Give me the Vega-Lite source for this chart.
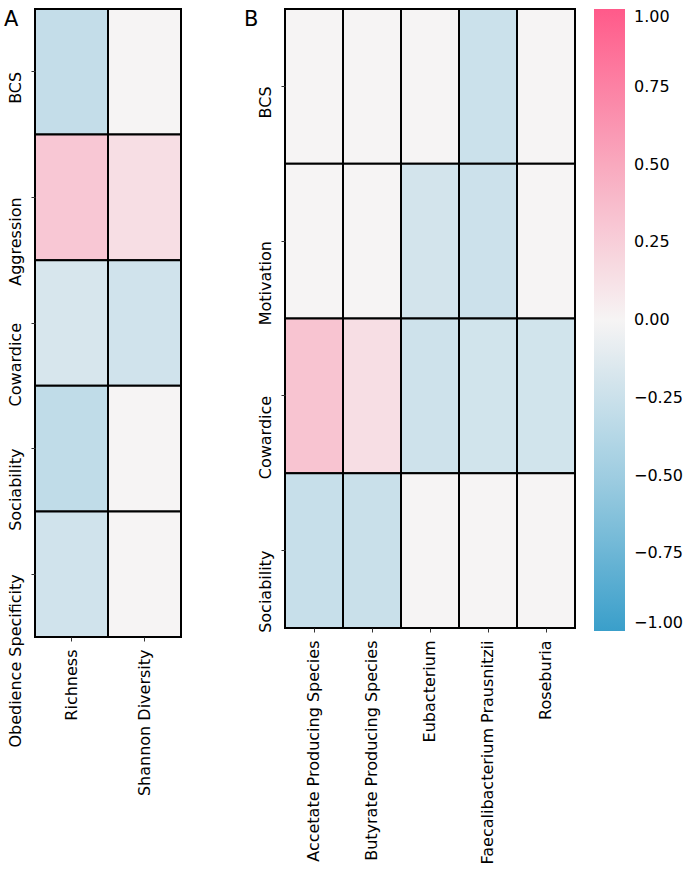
{
  "$schema": "https://vega.github.io/schema/vega-lite/v6.json",
  "padding": {"left": 4, "top": 8, "right": 5, "bottom": 4},
  "autosize": {"type": "pad"},
  "datasets": {
    "a": [
      {"trait": "BCS", "measure": "Richness", "r": -0.29},
      {"trait": "BCS", "measure": "Shannon Diversity", "r": 0},
      {"trait": "Aggression", "measure": "Richness", "r": 0.3},
      {"trait": "Aggression", "measure": "Shannon Diversity", "r": 0.15},
      {"trait": "Cowardice", "measure": "Richness", "r": -0.18},
      {"trait": "Cowardice", "measure": "Shannon Diversity", "r": -0.22},
      {"trait": "Sociability", "measure": "Richness", "r": -0.31},
      {"trait": "Sociability", "measure": "Shannon Diversity", "r": 0},
      {"trait": "Obedience Specificity", "measure": "Richness", "r": -0.22},
      {"trait": "Obedience Specificity", "measure": "Shannon Diversity", "r": 0}
    ],
    "b": [
      {"trait": "BCS", "taxon": "Accetate Producing Species", "r": 0},
      {"trait": "BCS", "taxon": "Butyrate Producing Species", "r": 0},
      {"trait": "BCS", "taxon": "Eubacterium", "r": 0},
      {"trait": "BCS", "taxon": "Faecalibacterium Prausnitzii", "r": -0.25},
      {"trait": "BCS", "taxon": "Roseburia", "r": 0},
      {"trait": "Motivation", "taxon": "Accetate Producing Species", "r": 0},
      {"trait": "Motivation", "taxon": "Butyrate Producing Species", "r": 0},
      {"trait": "Motivation", "taxon": "Eubacterium", "r": -0.2},
      {"trait": "Motivation", "taxon": "Faecalibacterium Prausnitzii", "r": -0.24},
      {"trait": "Motivation", "taxon": "Roseburia", "r": 0},
      {"trait": "Cowardice", "taxon": "Accetate Producing Species", "r": 0.32},
      {"trait": "Cowardice", "taxon": "Butyrate Producing Species", "r": 0.15},
      {"trait": "Cowardice", "taxon": "Eubacterium", "r": -0.23},
      {"trait": "Cowardice", "taxon": "Faecalibacterium Prausnitzii", "r": -0.21},
      {"trait": "Cowardice", "taxon": "Roseburia", "r": -0.21},
      {"trait": "Sociability", "taxon": "Accetate Producing Species", "r": -0.27},
      {"trait": "Sociability", "taxon": "Butyrate Producing Species", "r": -0.26},
      {"trait": "Sociability", "taxon": "Eubacterium", "r": 0},
      {"trait": "Sociability", "taxon": "Faecalibacterium Prausnitzii", "r": 0},
      {"trait": "Sociability", "taxon": "Roseburia", "r": 0}
    ]
  },
  "spacing": 62,
  "hconcat": [
    {
      "title": {"text": "A", "orient": "top", "anchor": "start", "frame": "bounds", "baseline": "top", "offset": 0, "dx": -3, "dy": 22},
      "data": {"name": "a"},
      "width": 146,
      "height": 628,
      "mark": {"type": "rect", "stroke": "black", "strokeWidth": 2},
      "encoding": {
        "x": {"field": "measure", "type": "nominal", "sort": ["Richness", "Shannon Diversity"],
              "axis": {"title": null, "labelAngle": -90, "labelAlign": "right", "labelBaseline": "middle"}},
        "y": {"field": "trait", "type": "nominal", "sort": ["BCS", "Aggression", "Cowardice", "Sociability", "Obedience Specificity"],
              "axis": {"title": null, "labelAngle": -90, "labelAlign": "right", "labelBaseline": "bottom"}},
        "color": {"field": "r", "type": "quantitative",
                  "scale": {"domain": [-1, -0.5, 0, 0.5, 1], "range": ["#3a9fca", "#9fcde1", "#f6f4f4", "#f9a9be", "#ff5a8a"], "interpolate": "rgb"},
                  "legend": {"title": null, "direction": "vertical", "gradientLength": 622, "gradientThickness": 31,
                             "values": [-1, -0.75, -0.5, -0.25, 0, 0.25, 0.5, 0.75, 1], "format": ".2f",
                             "labelFontSize": 16, "labelFont": "DejaVu Sans", "labelColor": "#000", "labelOffset": 9,
                             "offset": 18, "gradientStrokeWidth": 0}}
      }
    },
    {
      "title": {"text": "B", "orient": "top", "anchor": "start", "frame": "bounds", "baseline": "top", "offset": 0, "dx": -13, "dy": 22},
      "data": {"name": "b"},
      "width": 290,
      "height": 619,
      "mark": {"type": "rect", "stroke": "black", "strokeWidth": 2},
      "encoding": {
        "x": {"field": "taxon", "type": "nominal",
              "sort": ["Accetate Producing Species", "Butyrate Producing Species", "Eubacterium", "Faecalibacterium Prausnitzii", "Roseburia"],
              "axis": {"title": null, "labelAngle": -90, "labelAlign": "right", "labelBaseline": "middle"}},
        "y": {"field": "trait", "type": "nominal", "sort": ["BCS", "Motivation", "Cowardice", "Sociability"],
              "axis": {"title": null, "labelAngle": -90, "labelAlign": "right", "labelBaseline": "bottom"}},
        "color": {"field": "r", "type": "quantitative",
                  "scale": {"domain": [-1, -0.5, 0, 0.5, 1], "range": ["#3a9fca", "#9fcde1", "#f6f4f4", "#f9a9be", "#ff5a8a"], "interpolate": "rgb"},
                  "legend": {"title": null, "direction": "vertical", "gradientLength": 622, "gradientThickness": 31,
                             "values": [-1, -0.75, -0.5, -0.25, 0, 0.25, 0.5, 0.75, 1], "format": ".2f",
                             "labelFontSize": 16, "labelFont": "DejaVu Sans", "labelColor": "#000", "labelOffset": 9,
                             "offset": 18, "gradientStrokeWidth": 0}}
      }
    }
  ],
  "config": {
    "view": {"stroke": null},
    "font": "DejaVu Sans",
    "title": {"font": "DejaVu Sans", "fontSize": 21, "fontWeight": "normal", "color": "#000"},
    "axis": {"domain": false, "tickColor": "#333", "tickSize": 4, "tickWidth": 1, "labelPadding": 8,
             "labelFont": "DejaVu Sans", "labelFontSize": 16, "labelColor": "#000", "labelLimit": 400, "grid": false}
  }
}
